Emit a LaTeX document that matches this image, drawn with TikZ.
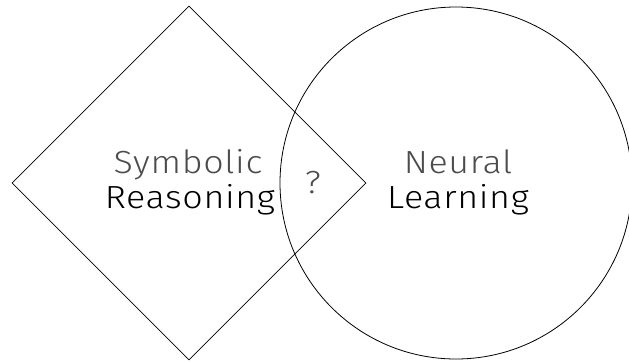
\documentclass[tikz,border=0pt]{standalone}
\usepackage{fontspec}
\setmainfont{Fira Sans Light}[FakeStretch=1.12, LetterSpace=2]
\newfontfamily\lightfont{Fira Sans Light}[FakeStretch=1.12, LetterSpace=2]
\usetikzlibrary{shapes.geometric}

\begin{document}
\begin{tikzpicture}[
  x=1pt, y=-1pt,
  outline/.style={draw=black, line width=0.8pt, inner sep=0pt},
  thin word/.style={font=\lightfont\fontsize{32}{36}\selectfont, text=black!70, anchor=base, inner sep=0pt},
  main word/.style={font=\fontsize{32}{36}\selectfont, text=black, anchor=base, inner sep=0pt}
]
\useasboundingbox (0,0) rectangle (629,362);

%% the two shapes
\node[outline, diamond, minimum width=354pt, minimum height=354pt] (symb) at (189,183) {};
\node[outline, circle, minimum size=352pt] (neur) at (456,183) {};

%% labels
\node[thin word] (symtop) at (188,173) {Symbolic};
\node[main word] (symbot) at (190,208) {Reasoning};
\node[thin word] (neutop) at (458,173) {Neural};
\node[main word] (neubot) at (458,208) {Learning};

%% overlap
\node[thin word] (ask) at (313,193) {?};

\end{tikzpicture}
\end{document}
